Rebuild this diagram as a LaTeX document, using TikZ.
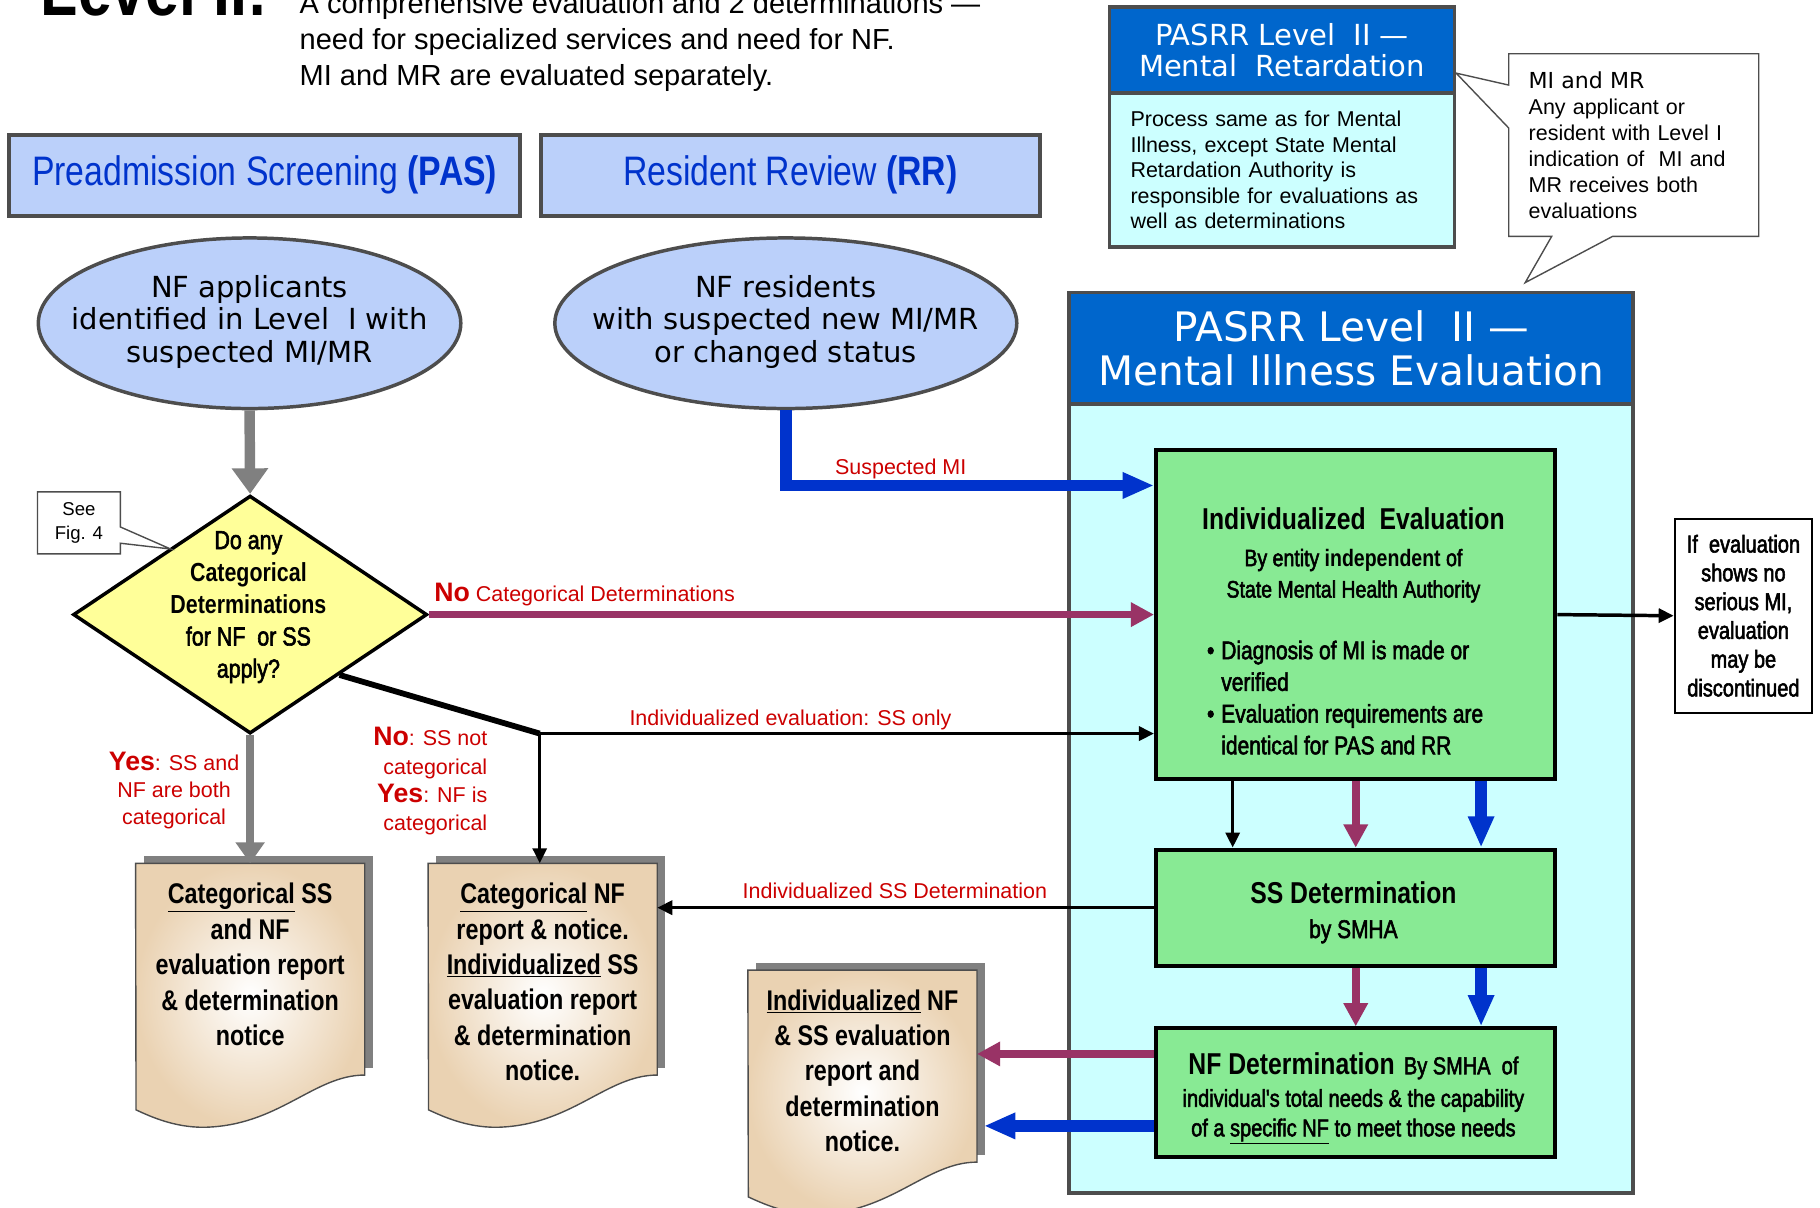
\documentclass[tikz,border=0pt]{standalone}
\usepackage{fontspec}
\setmainfont{Liberation Sans}
\newfontfamily\verdfont{DejaVu Sans}
\newfontfamily\condfont[FakeStretch=0.82]{Liberation Sans}
\newfontfamily\condmedfont[FakeStretch=0.82,FakeBold=2.2]{Liberation Sans}
\usetikzlibrary{arrows.meta,shapes.geometric,positioning}
\newcommand\fsz[2]{\fontsize{#1}{#2}\selectfont}

\definecolor{paleblue}{RGB}{187,208,250}
\definecolor{titleblue}{RGB}{0,51,204}
\definecolor{deepblue}{RGB}{0,102,204}
\definecolor{palecyan}{RGB}{204,255,255}
\definecolor{palegreen}{RGB}{136,234,148}
\definecolor{paleyellow}{RGB}{255,255,153}
\definecolor{plum}{RGB}{153,51,102}
\definecolor{flowblue}{RGB}{0,51,204}
\definecolor{labelred}{RGB}{204,0,0}
\definecolor{edgegray}{RGB}{77,77,77}
\definecolor{docbeige}{RGB}{234,210,178}
\definecolor{shadowgray}{RGB}{128,128,128}

\tikzset{
  hdrbox/.style={draw=edgegray, line width=3.5pt, fill=paleblue, minimum width=440pt,
    minimum height=70pt, inner sep=0pt, text=titleblue, font=\condfont\fsz{35.5}{40}},
  oval/.style={ellipse, draw=edgegray, line width=3pt, fill=paleblue, inner sep=0pt},
  ovaltext/.style={font=\verdfont\fsz{25}{28}, align=center, inner sep=0pt},
  decision/.style={diamond, draw=black, line width=3pt, fill=paleyellow, inner sep=0pt},
  panelhead/.style={draw=edgegray, line width=3pt, fill=deepblue, text=white, align=center, inner sep=0pt},
  panelbody/.style={draw=edgegray, line width=3pt, fill=palecyan, inner sep=0pt},
  stagebox/.style={draw=black, line width=3.5pt, fill=palegreen, align=center, inner sep=0pt,
    minimum width=344pt},
  notebox/.style={draw=black, line width=2pt, fill=white, align=center, inner sep=0pt},
  docbody/.style={minimum width=197pt, inner sep=0pt},
  doctext/.style={font=\condfont\bfseries\fsz{24.5}{30.5}, align=center, inner sep=0pt},
  callout/.style={draw=edgegray, line width=1.2pt},
  lbl/.style={text=labelred, font=\fsz{18.5}{23.5}, inner sep=0pt},
  blackflow/.style={draw=black, line width=3pt, -{Triangle[length=13pt,width=12pt]}},
  plumflow/.style={draw=plum, line width=6.5pt, -{Triangle[length=20pt,width=20pt]}},
  blueflow/.style={draw=flowblue, line width=10pt, -{Triangle[length=27pt,width=21pt]}},
  grayflow/.style={draw=shadowgray, line width=9pt, -{Triangle[length=22pt,width=30pt]}},
}

\begin{document}
\begin{tikzpicture}[x=1pt,y=-1pt]
    \useasboundingbox (0,0) rectangle (1568,1040);
    \fill[white] (0,0) rectangle (1568,1040);
    % heading
    \node[anchor=base west, inner sep=0pt, font=\condfont\bfseries\fsz{64}{64}] (lvl) at (35,13) {Level II:};
    \node[anchor=base west, inner sep=0pt, font=\fsz{25}{31}] (intro1) at (258,12) {A comprehensive evaluation and 2 determinations —};
    \node[anchor=base west, inner sep=0pt, font=\fsz{25}{31}] (intro2) at (258,43) {need for specialized services and need for NF.};
    \node[anchor=base west, inner sep=0pt, font=\fsz{25}{31}] (intro3) at (258,74) {MI and MR are evaluated separately.};

    % mental retardation box and its callout
    \node[panelhead, minimum width=297pt, minimum height=74pt, font=\verdfont\fsz{25}{27}] (mrhead) at (1104.5,43) {PASRR Level\ \ II —\\Mental\ \ Retardation};
    \node[panelbody, minimum width=297pt, minimum height=133pt, text width=261pt, inner xsep=18pt, align=left, font=\fsz{18.5}{22}] (mrbody) at (1104.5,146.5) {Process same as for Mental\\Illness, except State Mental\\Retardation Authority is\\responsible for evaluations as\\well as determinations};
    \node[text width=181pt, inner xsep=17pt, inner ysep=0pt, minimum height=157pt, align=left, font=\fsz{18.5}{22.3}] (mimr) at (1407.5,125) {{\verdfont\fsz{19}{22.3}MI and MR}\\Any applicant or\\resident with Level I\\indication of\ \ MI and\\MR receives both\\evaluations};

    % PAS and RR
    \node[hdrbox] (pas) at (228,151) {Preadmission Screening \textbf{(PAS)}};
    \node[hdrbox, minimum width=430pt] (rr) at (681,151) {Resident Review \textbf{(RR)}};

    \node[oval, minimum width=364pt, minimum height=147pt] (appl) at (215,278.5) {};
    \node[ovaltext] (appltxt) at (215,277) {NF applicants\\identified in Level\ \ I with\\suspected MI/MR};
    \node[oval, minimum width=398pt, minimum height=147pt] (resid) at (677,278.5) {};
    \node[ovaltext] (residtxt) at (677,277) {NF residents\\with suspected new MI/MR\\or changed status};

    \node[decision, minimum width=305pt, minimum height=205pt] (dia) at (215.5,529.5) {};
    \node[font=\condmedfont\fsz{22.5}{27.7}, align=center, inner sep=0pt] (diatxt) at (214,523) {Do any\\{\condfont\bfseries Categorical}\\{\condfont\bfseries Determinations}\\for NF\ \ or SS\\apply?};
    \node[align=center, inner sep=0pt, minimum width=71pt, minimum height=53pt, font=\fsz{16}{20}] (seefig) at (68,450.5) {See\\Fig. 4};
    \draw[callout] (seefig.north west) -- (seefig.north east) -- ([yshift=-3.5pt]seefig.east) -- (147,473)
        -- ([yshift=-17.5pt]seefig.east) -- (seefig.south east) -- (seefig.south west) -- cycle;

    % mental illness evaluation panel
    \node[panelbody, minimum width=486pt, minimum height=680pt] (mibody) at (1164,688) {};
    \node[panelhead, minimum width=486pt, minimum height=96pt, font=\verdfont\fsz{35}{38}] (mihead) at (1164,300) {PASRR Level\ \ II —\\Mental Illness Evaluation};
    \draw[callout] (mimr.north west) -- (mimr.north east) -- (mimr.south east) -- ([xshift=-126pt]mimr.south east)
        -- ([xshift=150pt,yshift=7pt]mihead.north) -- ([xshift=37pt]mimr.south west) -- (mimr.south west)
        -- ([yshift=-64pt]mimr.north west) -- ([yshift=-20pt]mrhead.east) -- ([yshift=-27pt]mimr.north west) -- cycle;

    \node[stagebox, minimum height=283pt] (indeval) at (1168,529.5) {};
    \node[font=\condfont\bfseries\fsz{26}{30}, inner sep=0pt] (indevaltitle) at (1166,447) {Individualized\ \ Evaluation};
    \node[font=\condmedfont\fsz{20.5}{27}, align=center, inner sep=0pt] (indevalby) at (1166,496) {By entity {\condfont\bfseries independent} of\\State Mental Health Authority};
    \node[font=\condmedfont\fsz{22}{27.3}, align=left, inner sep=0pt, anchor=west] (indevallist) at (1052,601) {\llap{•\hspace{6pt}}Diagnosis of MI is made or\\verified\\\llap{•\hspace{6pt}}Evaluation requirements are\\identical for PAS and RR};
    \node[stagebox, minimum height=100pt] (ssdet) at (1168,782) {};
    \node[font=\condmedfont\fsz{22}{30}, align=center, inner sep=0pt] (ssdettxt) at (1166,786) {{\condfont\bfseries\fsz{26}{30}SS Determination}\\by SMHA};
    \node[stagebox, minimum height=111pt] (nfdet) at (1168,941.5) {};
    \node[font=\condmedfont\fsz{21}{25.5}, align=center, inner sep=0pt] (nfdettxt) at (1166,946) {{\condfont\bfseries\fsz{26}{26}NF Determination}\hspace{8pt}By SMHA\ \ of\\[2.5pt]individual's total needs \& the capability\\of a \underline{specific NF} to meet those needs};
    \node[notebox, minimum width=118pt, minimum height=167pt, font=\condmedfont\fsz{21}{24.8}] (ifeval) at (1502,530.5) {If\ \ evaluation\\shows no\\serious MI,\\evaluation\\may be\\discontinued};

    % report documents
    \node[docbody, minimum height=182pt] (catdoc) at (215.5,835) {};
    \node[docbody, minimum height=182pt] (catnfdoc) at (467.5,835) {};
    \node[docbody, minimum height=165pt] (inddoc) at (743,918.5) {};
    \foreach \d in {catdoc,catnfdoc,inddoc}{
        \fill[shadowgray] ([xshift=7pt,yshift=6pt]\d.north west) rectangle ([xshift=7pt,yshift=6pt]\d.south east);
        \begin{scope}[shift={(\d.south east)}]
            \shadedraw[draw=edgegray, line width=1.2pt, inner color=white, outer color=docbeige]
                (\d.north west) -- (\d.north east) -- (0,0) .. controls (-44,0) and (-74,44) .. (-139,45)
                .. controls (-164,45) and (-184,36) .. (-197,30) -- cycle;
        \end{scope}
    }
    \node[doctext] (catdoctxt) at (215.5,831) {\underline{Categorical} SS\\and NF\\evaluation report\\\& determination\\notice};
    \node[doctext] (catnfdoctxt) at (467.5,846) {\underline{Categorical} NF\\report \& notice.\\\underline{Individualized} SS\\evaluation report\\\& determination\\notice.};
    \node[doctext] (inddoctxt) at (743,922.5) {\underline{Individualized} NF\\\& SS evaluation\\report and\\determination\\notice.};

    % connectors
    \coordinate (split) at (465,632);
    \draw[grayflow] (appl.south) -- (dia.north);
    \draw[grayflow, line width=7pt, -{Triangle[length=18pt,width=24pt]}] (dia.south) -- (catdoc.north);
    \draw[blueflow] (resid.south) |- ([yshift=-32pt]indeval.north west);
    \draw[plumflow] (dia.east) -- (dia.east -| indeval.west);
    \draw[black, line width=5pt] (dia.south east) -- (split);
    \draw[blackflow] (split) -- (split -| indeval.west);
    \draw[blackflow] (split) -- (split |- catnfdoc.north);
    \draw[blackflow] (indeval.east) -- (ifeval.west);
    \foreach \dx/\sty in {-106/blackflow,0/plumflow,108/blueflow}
        \draw[\sty] ([xshift=\dx pt]indeval.south) -- ([xshift=\dx pt]ssdet.north);
    \foreach \dx/\sty in {0/plumflow,108/blueflow}
        \draw[\sty] ([xshift=\dx pt]ssdet.south) -- ([xshift=\dx pt]nfdet.north);
    \draw[blackflow] (ssdet.west) -- (ssdet.west -| catnfdoc.east);
    \draw[plumflow] ([yshift=33.5pt]nfdet.west) -- ([yshift=33.5pt]nfdet.west -| inddoc.east);
    \draw[blueflow] ([yshift=-28.5pt]nfdet.west) -- ([yshift=-28.5pt,xshift=6pt]nfdet.west -| inddoc.east);

    % labels
    \node[lbl, anchor=base] (susplbl) at (776,409) {Suspected MI};
    \node[lbl, anchor=base] (sslbl) at (681,625) {Individualized evaluation: SS only};
    \node[lbl, anchor=base] (ssdetlbl) at (771,774) {Individualized SS Determination};
    \node[lbl, anchor=base west] (nolbl) at (374,518) {{\bfseries\fsz{23}{23}No} Categorical Determinations};
    \node[lbl, align=center] (yeslbl) at (150,681) {{\bfseries\fsz{23}{23}Yes}: SS and\\NF are both\\categorical};
    \node[lbl, align=right, anchor=east, font=\fsz{18.5}{24.3}] (nosslbl) at (420,673) {{\bfseries\fsz{23}{23}No}: SS not\\categorical\\{\bfseries\fsz{23}{23}Yes}: NF is\\categorical};
\end{tikzpicture}
\end{document}
